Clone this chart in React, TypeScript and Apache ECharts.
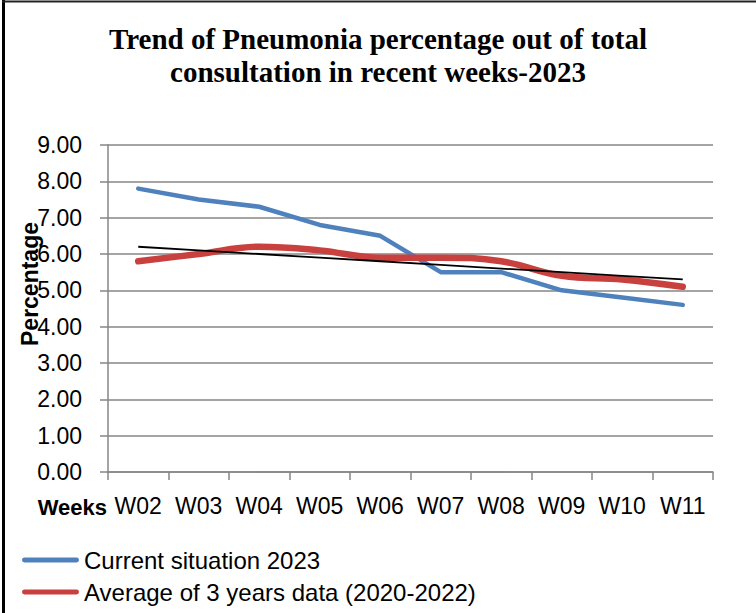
import React, { useEffect, useRef } from "react";
import * as echarts from "echarts";

const weeks = ["W02", "W03", "W04", "W05", "W06", "W07", "W08", "W09", "W10", "W11"];
const current2023 = [7.8, 7.5, 7.3, 6.8, 6.5, 5.5, 5.5, 5.0, 4.8, 4.6];
const avg3Years = [5.8, 6.0, 6.2, 6.1, 5.9, 5.9, 5.8, 5.4, 5.3, 5.1];
const trendLine = [6.2, 6.1, 6.0, 5.9, 5.8, 5.7, 5.6, 5.5, 5.4, 5.3];
const yTicks = { min: 0, max: 9, interval: 1 };

const titleText = "Trend of Pneumonia percentage out of total\nconsultation in recent weeks-2023";
const currentName = "Current situation 2023";
const avgName = "Average of 3 years data (2020-2022)";

const SANS = "'Liberation Sans', Arial, sans-serif";
const SERIF = "'Liberation Serif', 'Times New Roman', serif";
const GRID_GRAY = "#868686";

export default function App() {
  const ref = useRef<HTMLDivElement>(null);

  useEffect(() => {
    if (!ref.current) return;
    const chart = echarts.init(ref.current, undefined, { renderer: "svg" });
    const pill = "path://M2.5,0 H55.5 A2.5,2.5 0 0 1 55.5,5 H2.5 A2.5,2.5 0 0 1 2.5,0 Z";
    chart.setOption({
      animation: false,
      backgroundColor: "#ffffff",
      title: {
        text: titleText,
        left: "center",
        top: 22,
        padding: 0,
        textStyle: {
          fontFamily: SERIF,
          fontWeight: "bold",
          fontSize: 29,
          lineHeight: 33,
          color: "#000",
          align: "center",
        },
      },
      grid: { left: 108, right: 43, top: 145, bottom: 141, containLabel: false },
      legend: [
        {
          data: [{ name: currentName, icon: pill }],
          left: 22,
          top: 548,
          padding: 0,
          itemWidth: 57,
          itemHeight: 5,
          textStyle: { fontFamily: SANS, fontSize: 24, color: "#000" },
          selectedMode: false,
        },
        {
          data: [{ name: avgName, icon: pill }],
          left: 22,
          top: 580,
          padding: 0,
          itemWidth: 57,
          itemHeight: 7,
          textStyle: { fontFamily: SANS, fontSize: 24, color: "#000" },
          selectedMode: false,
        },
      ],
      xAxis: {
        type: "category",
        data: weeks,
        boundaryGap: true,
        axisLine: { show: true, lineStyle: { color: GRID_GRAY, width: 1.5 } },
        axisTick: { show: true, length: 8, interval: 0, lineStyle: { color: GRID_GRAY, width: 1.5 } },
        axisLabel: { interval: 0, margin: 22, fontFamily: SANS, fontSize: 23, color: "#000" },
        splitLine: { show: false },
      },
      yAxis: {
        type: "value",
        min: yTicks.min,
        max: yTicks.max,
        interval: yTicks.interval,
        axisLine: { show: true, lineStyle: { color: GRID_GRAY, width: 1.5 } },
        axisTick: { show: true, length: 8, lineStyle: { color: GRID_GRAY, width: 1.5 } },
        axisLabel: {
          margin: 26,
          fontFamily: SANS,
          fontSize: 23,
          color: "#000",
          formatter: (v: number) => v.toFixed(2),
        },
        splitLine: { show: true, lineStyle: { color: GRID_GRAY, width: 1.5 } },
      },
      series: [
        {
          name: currentName,
          type: "line",
          data: current2023,
          symbol: "none",
          showSymbol: false,
          smooth: false,
          lineStyle: { color: "#4F81BD", width: 4.5, cap: "round", join: "round" },
          itemStyle: { color: "#4F81BD" },
          z: 3,
        },
        {
          name: avgName,
          type: "line",
          data: avg3Years,
          symbol: "none",
          showSymbol: false,
          smooth: 0.4,
          lineStyle: { color: "#C9413E", width: 6.5, cap: "round", join: "round" },
          itemStyle: { color: "#C9413E" },
          z: 4,
        },
        {
          name: "Linear (Average of 3 years data (2020-2022))",
          type: "line",
          data: trendLine,
          symbol: "none",
          showSymbol: false,
          lineStyle: { color: "#000000", width: 1.8 },
          itemStyle: { color: "#000000" },
          z: 5,
        },
      ],
      graphic: [
        {
          type: "line",
          shape: { x1: 3.5, y1: 0, x2: 3.5, y2: 613 },
          style: { stroke: "#000", lineWidth: 3 },
        },
        {
          type: "line",
          shape: { x1: 2, y1: 1.5, x2: 756, y2: 1.5 },
          style: { stroke: "#222", lineWidth: 2 },
        },
        {
          type: "text",
          x: 107,
          y: 507,
          style: {
            text: "Weeks",
            fontFamily: SANS,
            fontWeight: "bold",
            fontSize: 22,
            fill: "#000",
            align: "right",
            verticalAlign: "middle",
          },
        },
        {
          type: "text",
          x: 30,
          y: 284,
          rotation: Math.PI / 2,
          style: {
            text: "Percentage",
            fontFamily: SANS,
            fontWeight: "bold",
            fontSize: 23,
            fill: "#000",
            align: "center",
            verticalAlign: "middle",
          },
        },
      ],
    });
    return () => chart.dispose();
  }, []);

  return (
    <div
      ref={ref}
      style={{ position: "absolute", left: 0, top: 0, width: 756, height: 613, background: "#fff" }}
    />
  );
}
